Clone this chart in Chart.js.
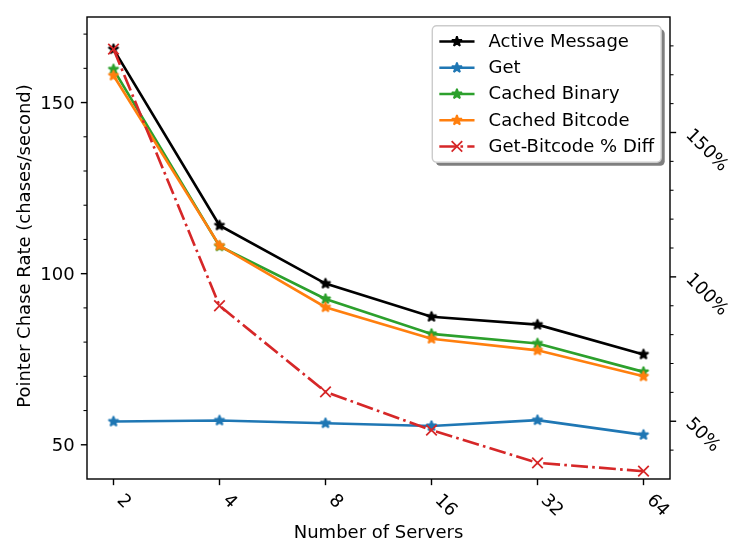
<!DOCTYPE html>
<html>
<head>
<meta charset="utf-8">
<script src="https://cdn.jsdelivr.net/npm/chart.js@4.4.0/dist/chart.umd.min.js"></script>
<style>
  html, body { margin: 0; padding: 0; background: #fff; }
</style>
</head>
<body>
<canvas id="chart" width="747" height="560"></canvas>
<script>
// values
const servers = [2, 4, 8, 16, 32, 64];
const activeMessage = [165.6, 114.1, 97.1, 87.4, 85.1, 76.4];
const getRate = [56.8, 57.1, 56.3, 55.5, 57.2, 52.9];
const cachedBinary = [159.7, 108.0, 92.6, 82.4, 79.6, 71.3];
const cachedBitcode = [157.9, 108.2, 90.2, 81.0, 77.6, 70.0];
const getBitcodeDiff = [178.9, 90.0, 60.2, 46.9, 35.6, 32.7];   // percent, right axis

const leftMajor = [50, 100, 150];
const leftMinor = [60, 70, 80, 90, 110, 120, 130, 140, 160, 170];
const rightMajor = [50, 100, 150];
const rightMinor = [40, 60, 70, 80, 90, 110, 120, 130, 140, 160, 170, 180];

// matplotlib-ish sizes (1pt ~ 1.76px here)
const PT = 1.76;
const FS = 10 * PT;          // layout unit (legend pads etc)
const TFS = 18;              // text size as rendered in the reference
const FONT = TFS + 'px "DejaVu Sans"';
const LW = 1.5 * PT;
const STAR_R = 3 * PT;
const EDGE = 1 * PT;

const C_BLACK = '#000000';
const C_BLUE = '#1f77b4';
const C_GREEN = '#2ca02c';
const C_ORANGE = '#ff7f0e';
const C_RED = '#d62728';
const DASHDOT = [6.4 * LW, 1.6 * LW, 1 * LW, 1.6 * LW];

function starPath(ctx, cx, cy, R) {
  const r = R * 0.381966;
  ctx.beginPath();
  for (let k = 0; k < 10; k++) {
    const rad = k % 2 ? r : R;
    const a = -Math.PI / 2 + k * Math.PI / 5;
    const px = cx + rad * Math.cos(a), py = cy + rad * Math.sin(a);
    if (k) ctx.lineTo(px, py); else ctx.moveTo(px, py);
  }
  ctx.closePath();
}

function drawStar(ctx, cx, cy, color) {
  starPath(ctx, cx, cy, STAR_R);
  ctx.fillStyle = color;
  ctx.fill();
  ctx.lineWidth = EDGE;
  ctx.strokeStyle = color;
  ctx.lineJoin = 'bevel';
  ctx.stroke();
}

function starImage(color) {
  const c = document.createElement('canvas');
  c.width = 24; c.height = 24;
  drawStar(c.getContext('2d'), 12, 12, color);
  return c;
}

function drawCross(ctx, cx, cy, color) {
  const d = STAR_R;
  ctx.save();
  ctx.setLineDash([]);
  ctx.strokeStyle = color;
  ctx.lineWidth = EDGE;
  ctx.beginPath();
  ctx.moveTo(cx - d, cy - d); ctx.lineTo(cx + d, cy + d);
  ctx.moveTo(cx - d, cy + d); ctx.lineTo(cx + d, cy - d);
  ctx.stroke();
  ctx.restore();
}

const pts = (vals) => servers.map((s, i) => ({ x: Math.log2(s), y: vals[i] }));

function starSet(label, vals, color, order) {
  return {
    label, data: pts(vals), yAxisID: 'y', order,
    borderColor: color, backgroundColor: color, borderWidth: LW,
    pointStyle: starImage(color), pointRadius: STAR_R, tension: 0
  };
}

const datasets = [
  starSet('Active Message', activeMessage, C_BLACK, 5),
  starSet('Get', getRate, C_BLUE, 4),
  starSet('Cached Binary', cachedBinary, C_GREEN, 3),
  starSet('Cached Bitcode', cachedBitcode, C_ORANGE, 2),
  {
    label: 'Get-Bitcode % Diff', data: pts(getBitcodeDiff), yAxisID: 'y1', order: 1,
    borderColor: C_RED, backgroundColor: C_RED, borderWidth: LW, borderDash: DASHDOT,
    pointStyle: 'crossRot', pointRadius: STAR_R / Math.SQRT1_2, pointBorderWidth: EDGE,
    pointBorderColor: C_RED, tension: 0
  }
];

// label box placed like matplotlib's rotated text: bbox left/top given
function rotatedLabel(ctx, text, boxLeft, boxTop) {
  const a = Math.PI / 4;
  const h = 0.968 * TFS, asc = 0.76 * TFS;
  ctx.save();
  ctx.translate(boxLeft + h * Math.sin(a), boxTop);
  ctx.rotate(a);
  ctx.textAlign = 'left';
  ctx.textBaseline = 'alphabetic';
  ctx.fillText(text, 0, asc);
  ctx.restore();
}

const axesPlugin = {
  id: 'mplAxes',
  afterDraw(chart) {
    const { ctx, chartArea: ca, scales } = chart;
    const xs = scales.x, yl = scales.y, yr = scales.y1;
    const major = 3.5 * PT, minor = 2 * PT, pad = 3.5 * PT;

    ctx.save();
    ctx.setLineDash([]);
    ctx.strokeStyle = '#000';
    ctx.fillStyle = '#000';
    ctx.font = FONT;

    // frame
    ctx.lineWidth = 0.8 * PT;
    ctx.strokeRect(ca.left, ca.top, ca.right - ca.left, ca.bottom - ca.top);

    // ticks
    const tick = (x0, y0, x1, y1, w) => {
      ctx.lineWidth = w;
      ctx.beginPath(); ctx.moveTo(x0, y0); ctx.lineTo(x1, y1); ctx.stroke();
    };
    servers.forEach(s => {
      const x = xs.getPixelForValue(Math.log2(s));
      tick(x, ca.bottom, x, ca.bottom + major, 0.8 * PT);
    });
    leftMajor.forEach(v => { const y = yl.getPixelForValue(v); tick(ca.left, y, ca.left - major, y, 0.8 * PT); });
    leftMinor.forEach(v => { const y = yl.getPixelForValue(v); tick(ca.left, y, ca.left - minor, y, 0.6 * PT); });
    rightMajor.forEach(v => { const y = yr.getPixelForValue(v); tick(ca.right, y, ca.right + major, y, 0.8 * PT); });
    rightMinor.forEach(v => { const y = yr.getPixelForValue(v); tick(ca.right, y, ca.right + minor, y, 0.6 * PT); });

    // tick labels
    ctx.textAlign = 'right';
    ctx.textBaseline = 'alphabetic';
    leftMajor.forEach(v => {
      ctx.fillText(String(v), ca.left - major - pad, yl.getPixelForValue(v) + 0.3645 * TFS);
    });
    servers.forEach(s => {
      rotatedLabel(ctx, String(s), xs.getPixelForValue(Math.log2(s)), ca.bottom + major + pad);
    });
    rightMajor.forEach(v => {
      rotatedLabel(ctx, v + '%', ca.right + major + pad, yr.getPixelForValue(v) - 6.5);
    });

    // axis titles
    ctx.textAlign = 'center';
    ctx.fillText('Number of Servers', (ca.left + ca.right) / 2, 538);
    ctx.save();
    ctx.translate(30, (ca.top + ca.bottom) / 2 - 2);
    ctx.rotate(-Math.PI / 2);
    ctx.fillText('Pointer Chase Rate (chases/second)', 0, 0);
    ctx.restore();

    // legend (upper right, with shadow)
    const bp = 0.4 * FS, hl = 2 * FS, htp = 0.8 * FS, ls = 0.5 * FS, rowH = 0.99 * FS;
    const maxW = Math.max(...datasets.map(d => ctx.measureText(d.label).width));
    const w = 2 * bp + hl + htp + maxW;
    const h = 2 * bp + datasets.length * rowH + (datasets.length - 1) * ls;
    const bx = ca.right - 0.5 * FS - w, by = ca.top + 0.5 * FS;
    const rr = 0.25 * FS;
    const off = 2 * PT;
    ctx.fillStyle = 'rgba(0,0,0,0.5)';
    ctx.beginPath(); ctx.roundRect(bx + off, by + off, w, h, rr); ctx.fill();
    ctx.fillStyle = '#fff';
    ctx.beginPath(); ctx.roundRect(bx, by, w, h, rr); ctx.fill();
    ctx.strokeStyle = '#cccccc';
    ctx.lineWidth = 0.8 * PT;
    ctx.stroke();

    ctx.textAlign = 'left';
    datasets.forEach((d, i) => {
      const top = by + bp + i * (rowH + ls);
      const cy = top + rowH / 2;
      const hx = bx + bp;
      ctx.save();
      ctx.strokeStyle = d.borderColor;
      ctx.lineWidth = LW;
      ctx.setLineDash(d.borderDash || []);
      ctx.beginPath(); ctx.moveTo(hx, cy); ctx.lineTo(hx + hl, cy); ctx.stroke();
      ctx.restore();
      if (d.pointStyle === 'crossRot') drawCross(ctx, hx + hl / 2, cy, d.borderColor);
      else drawStar(ctx, hx + hl / 2, cy, d.borderColor);
      ctx.fillStyle = '#000';
      ctx.fillText(d.label, hx + hl + htp, top + 0.78 * TFS);
    });
    ctx.restore();
  }
};

new Chart(document.getElementById('chart'), {
  type: 'line',
  data: { datasets },
  options: {
    responsive: false,
    animation: false,
    layout: { padding: { left: 87, top: 17, right: 77, bottom: 81 } },
    plugins: { legend: { display: false }, tooltip: { enabled: false } },
    scales: {
      x: { type: 'linear', min: 0.75, max: 6.25, display: false },
      y: { type: 'linear', position: 'left', min: 40, max: 175, display: false },
      y1: { type: 'linear', position: 'right', min: 30, max: 190, display: false }
    }
  },
  plugins: [axesPlugin]
});
</script>
</body>
</html>
